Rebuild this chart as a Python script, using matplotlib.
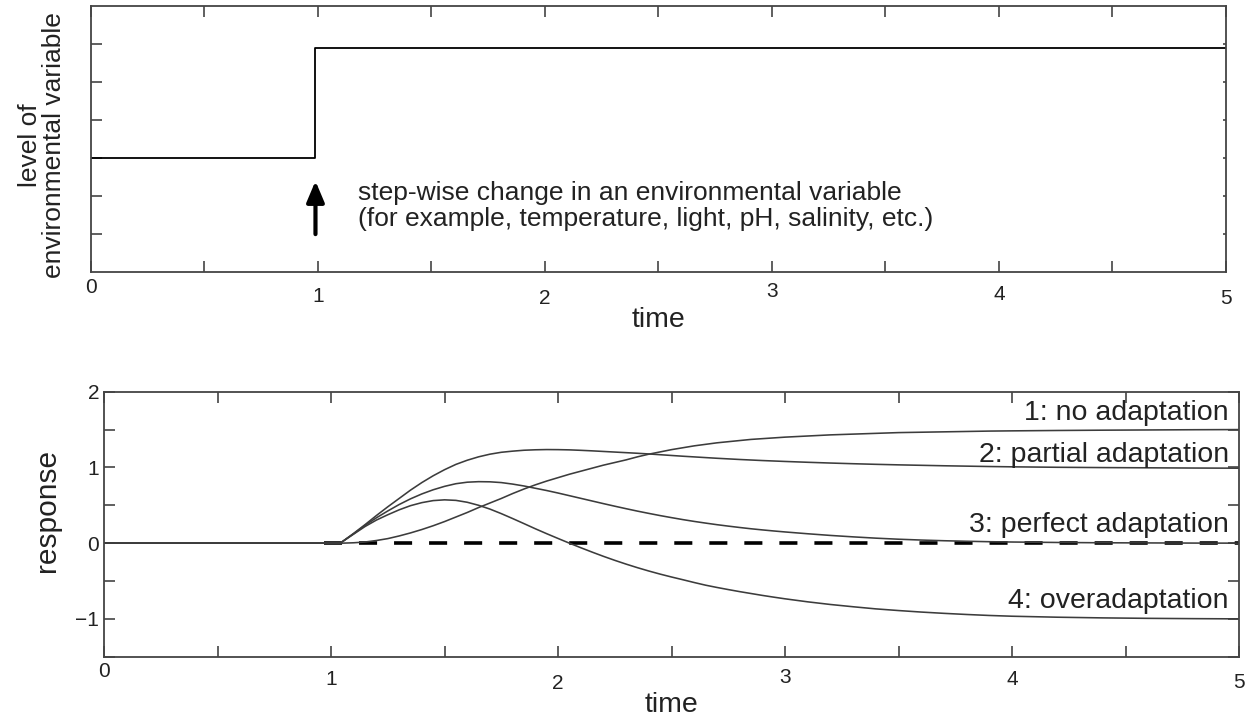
import matplotlib
matplotlib.use("Agg")
import matplotlib.pyplot as plt

plt.rcParams['font.family'] = ['Liberation Sans', 'DejaVu Sans']

# ---------------- data ----------------
# top panel: step change in environmental variable
env_t = [0.0, 0.99, 5.0]
env_level = [3.0, 5.9, 5.9]
arrow_t = 0.99
arrow_from, arrow_to = 0.99, 2.39
note_text = ("step-wise change in an environmental variable\n"
             "(for example, temperature, light, pH, salinity, etc.)")

# bottom panel: responses
t = [0, 1.04, 1.05, 1.10, 1.15, 1.20, 1.25, 1.30, 1.35, 1.40, 1.45, 1.50,
     1.55, 1.60, 1.65, 1.70, 1.75, 1.80, 1.85, 1.90, 1.95, 2.00,
     2.05, 2.10, 2.15, 2.20, 2.25, 2.30, 2.35, 2.40, 2.45, 2.50,
     2.55, 2.60, 2.65, 2.70, 2.75, 2.80, 2.85, 2.90, 2.95, 3.00,
     3.1, 3.2, 3.3, 3.4, 3.5, 3.6, 3.7, 3.8, 3.9, 4.0,
     4.2, 4.4, 4.6, 4.8, 5.0]
no_adapt = [0, 0,
            0.0, 0.005, 0.015, 0.035, 0.06, 0.095, 0.135, 0.18, 0.23, 0.285,
            0.345, 0.405, 0.47, 0.53, 0.59, 0.655, 0.715, 0.77, 0.82, 0.865,
            0.91, 0.95, 0.99, 1.03, 1.065, 1.10, 1.14, 1.175, 1.205, 1.235,
            1.26, 1.285, 1.305, 1.325, 1.34, 1.355, 1.37, 1.38, 1.39, 1.40,
            1.415, 1.43, 1.44, 1.45, 1.46, 1.465, 1.47, 1.475, 1.48, 1.483,
            1.488, 1.492, 1.495, 1.498, 1.50]
partial_adapt = [0, 0,
                 0.02, 0.13, 0.245, 0.365, 0.48, 0.59, 0.70, 0.80, 0.89, 0.97,
                 1.04, 1.095, 1.14, 1.175, 1.20, 1.215, 1.227, 1.233, 1.236, 1.235,
                 1.232, 1.226, 1.219, 1.211, 1.203, 1.195, 1.187, 1.178, 1.168, 1.158,
                 1.148, 1.139, 1.13, 1.121, 1.113, 1.105, 1.098, 1.091, 1.085, 1.079,
                 1.068, 1.058, 1.049, 1.041, 1.034, 1.028, 1.022, 1.017, 1.012, 1.008,
                 1.002, 0.998, 0.995, 0.992, 0.99]
perfect_adapt = [0, 0,
                 0.02, 0.125, 0.235, 0.335, 0.425, 0.51, 0.585, 0.65, 0.705, 0.75,
                 0.785, 0.805, 0.812, 0.81, 0.80, 0.78, 0.755, 0.725, 0.695, 0.662,
                 0.627, 0.592, 0.557, 0.522, 0.488, 0.455, 0.423, 0.393, 0.364, 0.337,
                 0.311, 0.287, 0.265, 0.244, 0.225, 0.207, 0.19, 0.175, 0.161, 0.148,
                 0.124, 0.102, 0.083, 0.066, 0.052, 0.041, 0.032, 0.025, 0.019, 0.015,
                 0.009, 0.005, 0.003, 0.001, 0.0]
over_adapt = [0, 0,
              0.02, 0.12, 0.22, 0.305, 0.375, 0.44, 0.495, 0.535, 0.562, 0.572,
              0.565, 0.54, 0.50, 0.45, 0.39, 0.325, 0.258, 0.19, 0.125, 0.062,
              0.0, -0.06, -0.118, -0.174, -0.227, -0.277, -0.324, -0.368, -0.409, -0.447,
              -0.483, -0.52, -0.555, -0.585, -0.613, -0.64, -0.665, -0.69, -0.713, -0.735,
              -0.775, -0.81, -0.84, -0.868, -0.89, -0.91, -0.927, -0.942, -0.955, -0.965,
              -0.978, -0.987, -0.993, -0.997, -1.0]
baseline_t = [0.97, 5.0]
baseline_v = [0.0, 0.0]

curve_labels = ["1: no adaptation", "2: partial adaptation",
                "3: perfect adaptation", "4: overadaptation"]
label_x = 4.955
label_y = [1.63, 1.07, 0.146, -0.86]

xtick_text = ["0", "1", "2", "3", "4", "5"]
top_pads = [4.8, 11.3, 12.7, 7.7, 9.8, 12.7]
bot_pads = [4.1, 9.8, 12.7, 8.4, 9.8, 12.0]
ytick_vals = [-1, 0, 1, 2]
ytick_text = ["\u22121", "0", "1", "2"]

# ---------------- style ----------------
SPINE = '#444444'
LINE = '#3c3c3c'
TXT = '#222222'
TICKFS = 15

fig = plt.figure(figsize=(12.49, 7.19), dpi=100)
ax1 = fig.add_axes([0.0726, 0.6221, 0.9090, 0.3695])
ax2 = fig.add_axes([0.0833, 0.0866, 0.9087, 0.3686])

for ax in (ax1, ax2):
    for s in ax.spines.values():
        s.set_color(SPINE)
        s.set_linewidth(1.3)
    ax.set_xlim(0, 5)
    ax.set_xticks([i * 0.5 for i in range(11)])
    ax.set_xticklabels([xtick_text[i // 2] if i % 2 == 0 else "" for i in range(11)])
    ax.tick_params(axis='x', direction='in', top=True, bottom=True, length=8,
                   width=1.2, color=SPINE, labelsize=TICKFS, labelcolor=TXT)

# ---- top panel ----
ax1.plot(env_t, env_level, drawstyle='steps-post', color='black', lw=1.3)
ax1.set_ylim(0, 7)
ax1.set_yticks([1, 2, 3, 4, 5, 6])
ax1.set_yticklabels([])
ax1.tick_params(axis='y', direction='in', left=True, right=False, length=8,
                width=1.2, color=SPINE)
sec = ax1.secondary_yaxis('right')
sec.set_yticks([1, 2, 3, 4, 5, 6])
sec.set_yticklabels([])
sec.tick_params(direction='in', length=2, width=1.2, color=SPINE)
sec.spines['right'].set_visible(False)

ax1.annotate('', xy=(arrow_t, arrow_to), xytext=(arrow_t, arrow_from),
             arrowprops=dict(arrowstyle='-|>,head_length=0.9,head_width=0.38',
                             lw=3, color='black', shrinkA=0, shrinkB=0,
                             mutation_scale=14))
ax1.text(1.178, 1.73, note_text, fontsize=19, ha='left', va='center',
         linespacing=1.12, color=TXT)
ax1.set_xlabel('time', fontsize=20.5, color=TXT, va='center')
ax1.xaxis.set_label_coords(0.5, -0.182)
ax1.set_ylabel('level of\nenvironmental variable', fontsize=19,
               color=TXT, linespacing=1.0, va='center', multialignment='center')
ax1.yaxis.set_label_coords(-0.0425, 0.477)

for tick, pad in zip(ax1.xaxis.get_major_ticks()[::2], top_pads):
    tick.set_pad(pad)

# ---- bottom panel ----
ax2.plot(baseline_t, baseline_v, color='black', lw=2.6, dashes=(5.0, 4.7))
for series in (no_adapt, partial_adapt, perfect_adapt, over_adapt):
    ax2.plot(t, series, color=LINE, lw=1.15, solid_joinstyle='round')
for txt, y in zip(curve_labels, label_y):
    ax2.text(label_x, y, txt, fontsize=20.5, ha='right', va='baseline',
             color=TXT)

yt = [-1.5 + 0.5 * i for i in range(8)]
ax2.set_ylim(-1.5, 2)
ax2.set_yticks(yt)
ax2.set_yticklabels([ytick_text[ytick_vals.index(v)] if v in ytick_vals else ""
                     for v in yt])
ax2.tick_params(axis='y', direction='in', left=True, right=True, length=8,
                width=1.2, color=SPINE, labelsize=TICKFS, pad=3.6,
                labelcolor=TXT)
ax2.set_xlabel('time', fontsize=20.5, color=TXT, va='center')
ax2.xaxis.set_label_coords(0.5, -0.182)
ax2.set_ylabel('response', fontsize=21.5, color=TXT, va='center')
ax2.yaxis.set_label_coords(-0.050, 0.553)

for tick, pad in zip(ax2.xaxis.get_major_ticks()[::2], bot_pads):
    tick.set_pad(pad)

fig.savefig('out.png', dpi=100)
